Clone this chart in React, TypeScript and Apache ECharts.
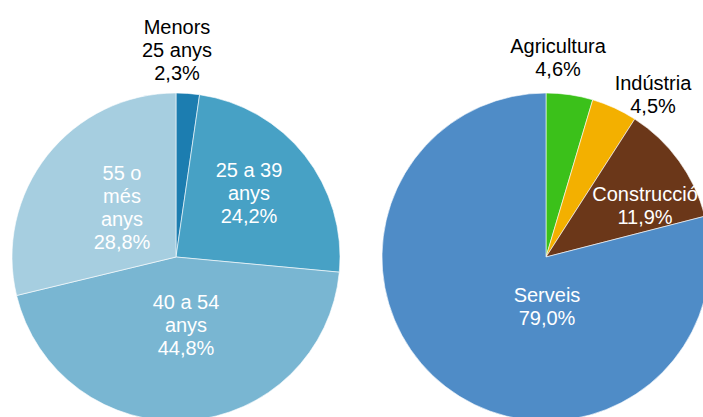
import React, { useEffect, useRef } from "react";
import * as echarts from "echarts";

const ageCategories = ["Menors\n25 anys", "25 a 39\nanys", "40 a 54\nanys", "55 o\nmés\nanys"];
const ageValues = [2.3, 24.2, 44.8, 28.8];
const ageColors = ["#1c7db0", "#47a1c5", "#79b6d2", "#a6cee0"];
const ageLabelColors = ["#000000", "#ffffff", "#ffffff", "#ffffff"];
const ageLabelAnchors = [[177, 50], [249, 193], [186, 325], [122, 207]];

const sectorCategories = ["Agricultura", "Indústria", "Construcció", "Serveis"];
const sectorValues = [4.6, 4.5, 11.9, 79.0];
const sectorColors = ["#3bc11a", "#f3b000", "#6b3719", "#4f8cc7"];
const sectorLabelColors = ["#000000", "#000000", "#ffffff", "#ffffff"];
const sectorLabelAnchors = [[558, 57], [653, 94], [645, 205], [547, 306]];

const fmt = (v: number) => v.toFixed(1).replace(".", ",") + "%";

function buildSeries(
  cats: string[],
  vals: number[],
  colors: string[],
  labelColors: string[],
  anchors: number[][],
  center: number[]
) {
  return {
    type: "pie",
    center,
    radius: 164,
    startAngle: 90,
    clockwise: true,
    silent: true,
    itemStyle: { borderColor: "#ffffff", borderWidth: 0.6 },
    label: {
      show: true,
      position: "inside",
      fontFamily: "Liberation Sans, Arial, sans-serif",
      fontSize: 20,
      lineHeight: 23,
      align: "center",
      verticalAlign: "middle",
      formatter: (p: any) => cats[p.dataIndex] + "\n" + fmt(vals[p.dataIndex]),
    },
    labelLine: { show: false },
    labelLayout: (p: any) => ({
      x: anchors[p.dataIndex][0],
      y: anchors[p.dataIndex][1],
      align: "center",
      verticalAlign: "middle",
    }),
    data: vals.map((v, i) => ({
      value: v,
      name: cats[i],
      itemStyle: { color: colors[i] },
      label: { color: labelColors[i] },
    })),
  };
}

export default function App() {
  const ref = useRef<HTMLDivElement>(null);
  useEffect(() => {
    if (!ref.current) return;
    const chart = echarts.init(ref.current, null, { renderer: "svg" });
    chart.setOption({
      animation: false,
      backgroundColor: "#ffffff",
      series: [
        buildSeries(ageCategories, ageValues, ageColors, ageLabelColors, ageLabelAnchors, [176, 257]),
        buildSeries(sectorCategories, sectorValues, sectorColors, sectorLabelColors, sectorLabelAnchors, [546, 257]),
      ],
    });
    return () => chart.dispose();
  }, []);
  return (
    <div
      ref={ref}
      style={{ position: "fixed", left: 0, top: 0, width: 703, height: 417 }}
    />
  );
}
